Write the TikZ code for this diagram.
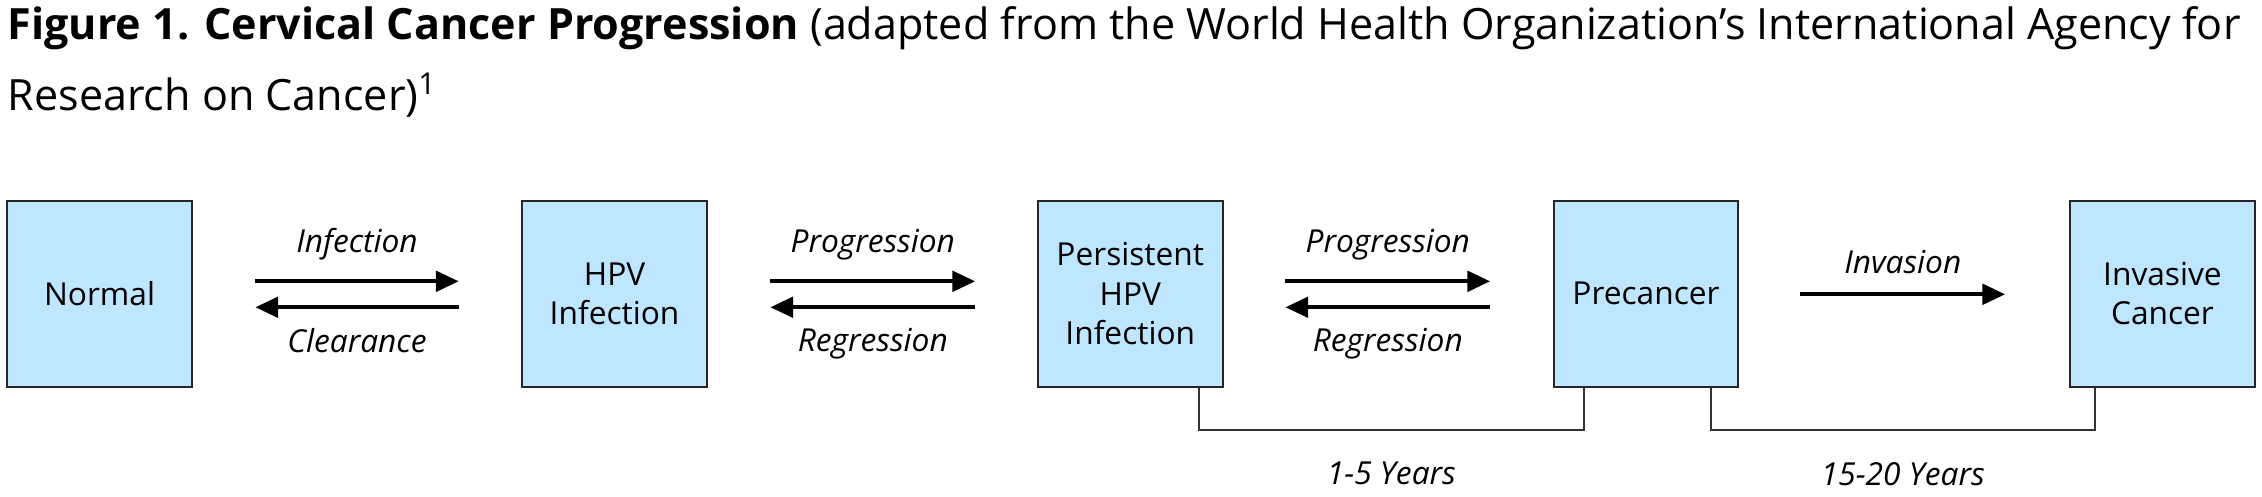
\documentclass[tikz,border=0pt]{standalone}
\usepackage{fontspec}
\setmainfont{Open Sans}
\usetikzlibrary{arrows.meta, positioning}

\begin{document}
\begin{tikzpicture}[
    x=0.02cm, y=-0.02cm,
    stage/.style={rectangle, draw=black!85, fill=blue!40!cyan!25!white, line width=0.8pt, minimum width=2.56cm, minimum height=2.58cm, align=center, font=\fontsize{12.5}{15.5}\selectfont, inner sep=0pt},
    flow/.style={-{Triangle[length=9pt, width=8pt]}, line width=1.7pt},
    lbl/.style={font=\fontsize{12.5}{15}\selectfont\itshape},
    bracket/.style={draw=black!80, line width=0.8pt}
]
\useasboundingbox (0,0) rectangle (1568,344);

% Title
\node[anchor=north west, align=left, inner sep=0pt, font=\fontsize{17}{28}\selectfont] (title) at (5,4)
  {\textbf{Figure 1. Cervical Cancer Progression} (adapted from the World Health Organization’s International Agency for\\Research on Cancer)\textsuperscript{1}};

% Stages
\node[stage] (normal) at (69,203.5) {Normal};
\node[stage] (hpv) at (426,203.5) {HPV\\Infection};
\node[stage] (persist) at (783.5,203.5) {Persistent\\HPV\\Infection};
\node[stage] (precancer) at (1141,203.5) {Precancer};
\node[stage] (invasive) at (1499,203.5) {Invasive\\Cancer};

% Arrow ends
\coordinate (a1) at (177,195); \coordinate (b1) at (318,195);
\coordinate (c1) at (177,213); \coordinate (d1) at (318,213);
\coordinate (a2) at (534,195); \coordinate (b2) at (676,195);
\coordinate (c2) at (534,213); \coordinate (d2) at (676,213);
\coordinate (a3) at (891,195); \coordinate (b3) at (1033,195);
\coordinate (c3) at (891,213); \coordinate (d3) at (1033,213);
\coordinate (a4) at (1248,204); \coordinate (b4) at (1390,204);

% Forward and backward arrows
\draw[flow] (a1) -- node[lbl, above=4pt] {Infection} (b1);
\draw[flow] (d1) -- node[lbl, below=4pt] {Clearance} (c1);
\draw[flow] (a2) -- node[lbl, above=4pt] {Progression} (b2);
\draw[flow] (d2) -- node[lbl, below=4pt] {Regression} (c2);
\draw[flow] (a3) -- node[lbl, above=4pt] {Progression} (b3);
\draw[flow] (d3) -- node[lbl, below=4pt] {Regression} (c3);
\draw[flow] (a4) -- node[lbl, above=4pt] {Invasion} (b4);

% Time brackets
\draw[bracket] (persist.south -| 831,0) -- (831,298) -- node[lbl, below=9pt] (yrs1) {1-5 Years} (1098,298) -- (precancer.south -| 1098,0);
\draw[bracket] (precancer.south -| 1186,0) -- (1186,298) -- node[lbl, below=9pt] (yrs2) {15-20 Years} (1452,298) -- (invasive.south -| 1452,0);

\end{tikzpicture}
\end{document}
